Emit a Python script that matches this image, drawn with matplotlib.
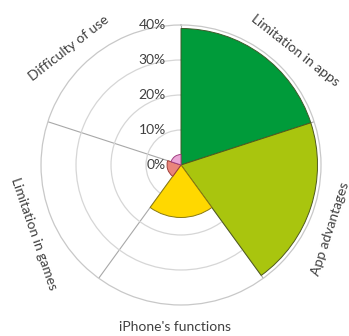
import numpy as np
import matplotlib
matplotlib.use("Agg")
import matplotlib.pyplot as plt

# survey answers, clockwise from the top
categories = ["Limitation in apps", "App advantages", "iPhone's functions", "Limitation in games", "Difficulty of use"]
values = [39, 39, 15, 4, 3]
colors = ["#009B3A", "#A9C50E", "#FFD800", "#EA857B", "#EBA6D6"]
edges = ["#3D5A2A", "#4F5A1E", "#8A7A10", "#A0403A", "#A04080"]
rticks = [0, 10, 20, 30, 40]
rlabels = ["0%", "10%", "20%", "30%", "40%"]

# where the category names sit (degrees clockwise from north) and their rotation
label_angles = [45, 113, 182, 245, 316]
label_rot = [-38, 72, 0, -71, 38]

###########################################################################
def main():
    plt.rcParams['font.family'] = ['Lato', 'DejaVu Sans']
    fig = plt.figure(figsize=(3.49, 3.36), dpi=100)
    ax = fig.add_axes([0.1175, 0.0923, 0.8023, 0.8333], projection='polar')
    ax.set_theta_zero_location('N')
    ax.set_theta_direction(-1)

    n = len(categories)
    width = 2 * np.pi / n
    theta = np.arange(n) * width + width / 2
    ax.bar(theta, values, width=width, color=colors, edgecolor=edges, linewidth=0.7, zorder=3)

    ax.set_ylim(0, 40)
    ax.set_xticks(np.arange(n) * width)
    ax.set_xticklabels([])
    ax.set_yticks(rticks[1:4])
    ax.set_yticklabels([])
    ax.xaxis.grid(True, color="#A8A8A8", linewidth=0.8)
    ax.yaxis.grid(True, color="#D6D6D6", linewidth=0.9)
    ax.spines['polar'].set_color("#C8C8C8")
    ax.spines['polar'].set_linewidth(0.9)
    ax.set_axisbelow(True)

    # radial labels on the left of the top spoke
    for r, lab in zip(rticks, rlabels):
        ax.annotate(lab, xy=(0, r), xytext=(-11, 0), textcoords='offset points',
                    ha='right', va='center', fontsize=10, color="#404040")

    # category names around the outside
    for ang, rot, lab in zip(label_angles, label_rot, categories):
        ax.text(np.deg2rad(ang), 46.3, lab, rotation=rot, rotation_mode='anchor',
                ha='center', va='center', fontsize=10, color="#404040")

    fig.savefig("out.png", dpi=100)

###############################################################################
if __name__ == "__main__":
    main()
